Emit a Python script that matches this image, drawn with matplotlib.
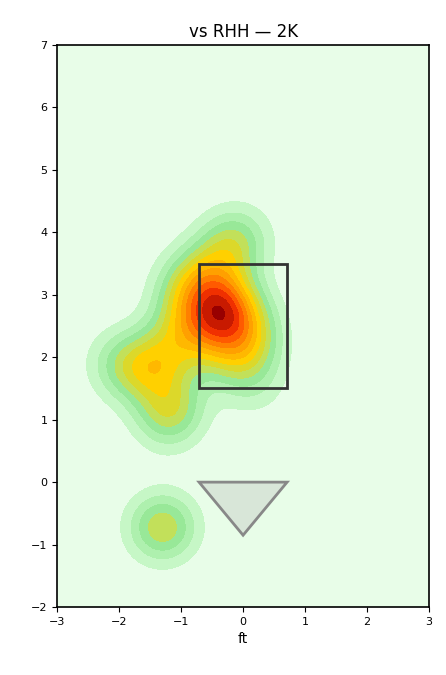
import matplotlib
matplotlib.use('Agg')
import matplotlib.pyplot as plt
import numpy as np
from matplotlib.patches import Rectangle, Polygon

# pitch locations (ft)
plate_x = [-0.35, -0.40, -0.37, -0.33,
           0.07, 0.13, 0.05, -0.13, -0.39, -0.63, -0.81, -0.95, -0.93, -0.77, -0.49, -0.19,
           -0.05, -0.20, -0.30,
           -2.00, -1.85, -1.55, -1.30, -1.35, -1.05,
           -1.20, -1.10, -1.25,
           0.15,
           -1.30, -1.25, -1.35]
plate_z = [2.70, 2.74, 2.66, 2.75,
           2.13, 2.30, 2.57, 2.88, 3.14, 3.29, 3.27, 3.04, 2.72, 2.40, 2.15, 2.05,
           3.95, 3.80, 3.65,
           1.95, 1.75, 1.90, 2.00, 1.75, 2.35,
           1.00, 1.25, 1.15,
           1.60,
           -0.75, -0.70, -0.72]

zone_x = [-0.71, 0.71]
zone_z = [1.5, 3.5]
plate_pts = [(-0.71, 0.0), (0.71, 0.0), (0.0, -0.85)]

title = 'vs RHH — 2K'
bw = 0.38

band_colors = ['#e8fde8', '#c6f7c6', '#aef0ae', '#98e898', '#c2e05a', '#dcd82a', '#ffd000',
               '#ffb800', '#ffa000', '#ff8000', '#ff5a00', '#f03000', '#c81a00', '#980000']

xx, yy = np.meshgrid(np.linspace(-3, 3, 300), np.linspace(-2, 7, 450))
dens = np.zeros_like(xx)
for px, pz in zip(plate_x, plate_z):
    dens += np.exp(-((xx - px) ** 2 + (yy - pz) ** 2) / (2 * bw ** 2))
dens /= len(plate_x) * 2 * np.pi * bw ** 2

fig = plt.figure(figsize=(4.46, 6.75), dpi=100)
ax = fig.add_axes([0.128, 0.1007, 0.834, 0.8326])
ax.set_facecolor(band_colors[0])
# top level sits a little above the peak, so the darkest band is only a speck
levels = np.linspace(0, dens.max() * 1.06, len(band_colors) + 1)
ax.contourf(xx, yy, dens, levels=levels, colors=band_colors)

ax.add_patch(Rectangle((zone_x[0], zone_z[0]), zone_x[1] - zone_x[0], zone_z[1] - zone_z[0],
                       fill=False, edgecolor='#333333', lw=2))
ax.add_patch(Polygon(plate_pts, closed=True, facecolor='#d8e6d8', edgecolor='#888888', lw=2))

ax.set_xlim(-3, 3)
ax.set_ylim(-2, 7)
ax.set_title(title, fontsize=12)
ax.set_xlabel('ft', fontsize=10)
ax.tick_params(labelsize=8)
for s in ax.spines.values():
    s.set_linewidth(1.2)

fig.savefig('out.png', dpi=100)
